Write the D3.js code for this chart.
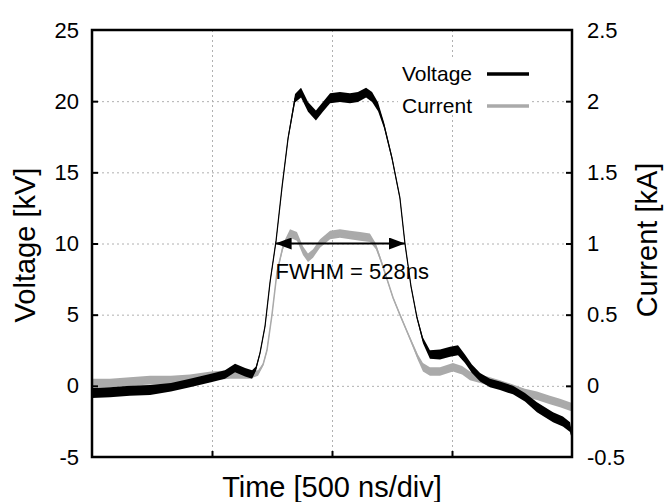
<!DOCTYPE html>
<html>
<head>
<meta charset="utf-8">
<script src="https://cdn.jsdelivr.net/npm/d3@7"></script>
<style>
  body { margin: 0; background: #fff; }
  svg text { font-family: "Liberation Sans", Arial, sans-serif; fill: #000; }
</style>
</head>
<body>
<div id="chart"></div>
<script>
// time in ns (500 ns per division, 4 divisions)
const timeNs = [0, 75, 158, 242, 329, 408, 496, 554, 596, 638, 667, 683, 700, 721, 742, 767, 792, 817, 846, 871,
  900, 933, 962, 992, 1033, 1075, 1108, 1142, 1167, 1192, 1217, 1250, 1283, 1304, 1329, 1354, 1379, 1408, 1450,
  1492, 1525, 1554, 1583, 1617, 1658, 1700, 1754, 1804, 1854, 1921, 1962, 1992, 2000];
// voltage in kV and its noise half-width
const voltage = [-0.5, -0.45, -0.35, -0.3, -0.1, 0.2, 0.55, 0.8, 1.25, 0.95, 0.8, 1.2, 2.3, 4.2, 7.3, 10.2, 14.0, 17.4, 20.2, 20.6,
  19.6, 19.0, 19.6, 20.2, 20.3, 20.2, 20.3, 20.6, 20.3, 19.6, 18.3, 16.0, 13.2, 10.0, 7.0, 4.8, 3.2, 2.2, 2.2,
  2.4, 2.5, 1.9, 1.2, 0.6, 0.2, 0.0, -0.3, -0.8, -1.5, -2.2, -2.5, -2.9, -3.6];
const voltageNoise = [0.35, 0.35, 0.35, 0.35, 0.3, 0.3, 0.3, 0.3, 0.3, 0.3, 0.3, 0.15, 0.1, 0.1, 0.1, 0.1, 0.1, 0.15, 0.3, 0.35,
  0.35, 0.35, 0.35, 0.35, 0.35, 0.35, 0.35, 0.35, 0.35, 0.3, 0.2, 0.15, 0.1, 0.1, 0.1, 0.1, 0.2, 0.3, 0.35,
  0.35, 0.35, 0.3, 0.3, 0.3, 0.3, 0.3, 0.3, 0.3, 0.35, 0.35, 0.35, 0.35, 0.2];

const currentTimeNs = [0, 75, 158, 242, 329, 408, 496, 575, 658, 692, 713, 729, 750, 771, 796, 825, 854, 879, 900, 921,
  950, 992, 1033, 1075, 1117, 1158, 1183, 1204, 1229, 1254, 1283, 1313, 1338, 1358, 1379, 1408, 1450, 1504, 1542,
  1575, 1617, 1658, 1700, 1754, 1804, 1854, 1908, 1950, 2000];
// current in kA and its noise half-width
const current = [0.02, 0.02, 0.03, 0.04, 0.04, 0.05, 0.07, 0.08, 0.08, 0.09, 0.15, 0.25, 0.5, 0.8, 0.98, 1.07, 1.05, 0.95, 0.9, 0.93,
  1.0, 1.06, 1.07, 1.06, 1.05, 1.04, 0.98, 0.88, 0.75, 0.62, 0.5, 0.38, 0.28, 0.2, 0.13, 0.1, 0.1, 0.13, 0.11,
  0.07, 0.05, 0.03, 0.01, -0.02, -0.05, -0.07, -0.1, -0.12, -0.15];
const currentNoise = [0.03, 0.03, 0.03, 0.03, 0.03, 0.03, 0.03, 0.03, 0.03, 0.02, 0.01, 0.01, 0.01, 0.01, 0.02, 0.03, 0.03, 0.03, 0.03, 0.03,
  0.03, 0.03, 0.03, 0.03, 0.03, 0.03, 0.02, 0.015, 0.01, 0.01, 0.01, 0.01, 0.015, 0.02, 0.03, 0.03, 0.03, 0.03, 0.03,
  0.03, 0.03, 0.03, 0.03, 0.03, 0.03, 0.03, 0.03, 0.03, 0.03];

const voltageTicks = [-5, 0, 5, 10, 15, 20, 25];
const currentTicks = [-0.5, 0, 0.5, 1, 1.5, 2, 2.5];
const timeTicks = [500, 1000, 1500];
const fwhm = { start: 765, end: 1304, level: 10, label: "FWHM = 528ns" };

const W = 668, H = 502;
const margin = { top: 30, right: 96, bottom: 45, left: 92 };
const width = W - margin.left - margin.right;
const height = H - margin.top - margin.bottom;

const svg = d3.select("#chart").append("svg")
  .attr("width", W).attr("height", H);
const g = svg.append("g")
  .attr("transform", "translate(" + margin.left + "," + margin.top + ")");

const x = d3.scaleLinear().domain([0, 2000]).range([0, width]);
const yV = d3.scaleLinear().domain([-5, 25]).range([height, 0]);
const yI = d3.scaleLinear().domain([-0.5, 2.5]).range([height, 0]);

// grid
const grid = g.append("g").attr("stroke", "#b0b0b0").attr("stroke-width", 1)
  .attr("stroke-dasharray", "2,3");
grid.selectAll(".gy").data(voltageTicks.filter(d => d > -5 && d < 25)).enter()
  .append("line")
  .attr("x1", 0).attr("x2", width)
  .attr("y1", d => yV(d) + 0.5).attr("y2", d => yV(d) + 0.5);
grid.selectAll(".gx").data(timeTicks).enter()
  .append("line")
  .attr("x1", d => x(d) + 0.5).attr("x2", d => x(d) + 0.5)
  .attr("y1", 0).attr("y2", height);

// legend box hides the grid behind it
g.append("rect")
  .attr("x", 306).attr("y", 28).attr("width", 134).attr("height", 54)
  .attr("fill", "#fff");

const band = (ys, vals, noise, t) => d3.area()
  .x((d, i) => x(t[i]))
  .y0((d, i) => ys(vals[i] - noise[i]))
  .y1((d, i) => ys(vals[i] + noise[i]));
const line = (ys, vals, t) => d3.line()
  .x((d, i) => x(t[i]))
  .y((d, i) => ys(vals[i]));

// current trace (grey)
g.append("path").datum(current)
  .attr("d", band(yI, current, currentNoise, currentTimeNs))
  .attr("fill", "#aaaaaa");
g.append("path").datum(current)
  .attr("d", line(yI, current, currentTimeNs))
  .attr("fill", "none").attr("stroke", "#aaaaaa").attr("stroke-width", 1.5);

// voltage trace (black)
g.append("path").datum(voltage)
  .attr("d", band(yV, voltage, voltageNoise, timeNs))
  .attr("fill", "#000");
g.append("path").datum(voltage)
  .attr("d", line(yV, voltage, timeNs))
  .attr("fill", "none").attr("stroke", "#000").attr("stroke-width", 1.2);

// axes (ticks pointing inward), plain hyphen for negatives
const left = g.append("g")
  .call(d3.axisLeft(yV).tickValues(voltageTicks).tickSize(-6).tickPadding(13)
    .tickFormat(d => String(d)));
const right = g.append("g").attr("transform", "translate(" + width + ",0)")
  .call(d3.axisRight(yI).tickValues(currentTicks).tickSize(-6).tickPadding(15)
    .tickFormat(d => String(d)));
const bottom = g.append("g").attr("transform", "translate(0," + height + ")")
  .call(d3.axisBottom(x).tickValues(timeTicks).tickSize(-6).tickFormat(""));
[left, right, bottom].forEach(a => {
  a.select(".domain").remove();
  a.selectAll(".tick line").attr("stroke", "#000").attr("stroke-width", 2);
  a.selectAll(".tick text").attr("font-size", 22)
    .style("font-family", '"Liberation Sans", Arial, sans-serif');
});
left.selectAll(".tick").filter(d => d === -5 || d === 25).select("line").remove();
right.selectAll(".tick").filter(d => d === -0.5 || d === 2.5).select("line").remove();

// frame
g.append("rect")
  .attr("x", 0).attr("y", 0).attr("width", width).attr("height", height)
  .attr("fill", "none").attr("stroke", "#000").attr("stroke-width", 2.5);

// FWHM arrow
const defs = svg.append("defs");
defs.append("marker").attr("id", "ah")
  .attr("viewBox", "0 0 16 12").attr("refX", 16).attr("refY", 6)
  .attr("markerWidth", 16).attr("markerHeight", 12)
  .attr("markerUnits", "userSpaceOnUse").attr("orient", "auto-start-reverse")
  .append("path").attr("d", "M0,0 L16,6 L0,12 Z").attr("fill", "#000");
g.append("line")
  .attr("x1", x(fwhm.start)).attr("x2", x(fwhm.end))
  .attr("y1", yV(fwhm.level)).attr("y2", yV(fwhm.level))
  .attr("stroke", "#000").attr("stroke-width", 2)
  .attr("marker-start", "url(#ah)").attr("marker-end", "url(#ah)");
g.append("text")
  .attr("x", x(fwhm.start)).attr("y", yV(fwhm.level) + 35)
  .attr("font-size", 22).text(fwhm.label);

// legend
const legend = [
  { name: "Voltage", color: "#000", y: 44 },
  { name: "Current", color: "#aaaaaa", y: 76 }
];
legend.forEach(l => {
  g.append("text").attr("x", 380).attr("y", l.y + 7).attr("text-anchor", "end")
    .attr("font-size", 21).text(l.name);
  g.append("line").attr("x1", 395).attr("x2", 437)
    .attr("y1", l.y).attr("y2", l.y)
    .attr("stroke", l.color).attr("stroke-width", 3.5);
});

// axis titles
svg.append("text").attr("x", margin.left + width / 2).attr("y", 497)
  .attr("text-anchor", "middle").attr("font-size", 29).text("Time [500 ns/div]");
svg.append("text").attr("transform", "translate(35,245) rotate(-90)")
  .attr("text-anchor", "middle").attr("font-size", 29).text("Voltage [kV]");
svg.append("text").attr("transform", "translate(657,240) rotate(-90)")
  .attr("text-anchor", "middle").attr("font-size", 29).text("Current [kA]");
</script>
</body>
</html>
